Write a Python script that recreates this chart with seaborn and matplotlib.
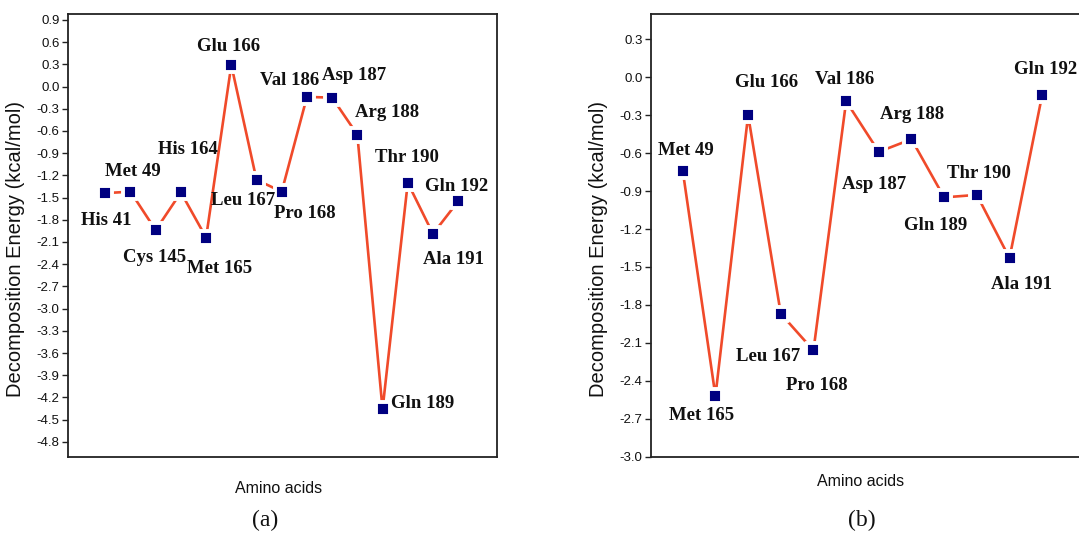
import numpy as np
import pandas as pd
import matplotlib
matplotlib.use("Agg")
import matplotlib.pyplot as plt
import seaborn as sns

####################################################################
# Per-residue decomposition energies (kcal/mol)
####################################################################
residues_a = ["His 41", "Met 49", "Cys 145", "His 164", "Met 165", "Glu 166",
              "Leu 167", "Pro 168", "Val 186", "Asp 187", "Arg 188", "Gln 189",
              "Thr 190", "Ala 191", "Gln 192"]
energy_a = [-1.44, -1.42, -1.94, -1.43, -2.04, 0.29, -1.26, -1.42, -0.14,
            -0.15, -0.65, -4.36, -1.30, -1.99, -1.55]

residues_b = ["Met 49", "Met 165", "Glu 166", "Leu 167", "Pro 168", "Val 186",
              "Asp 187", "Arg 188", "Gln 189", "Thr 190", "Ala 191", "Gln 192"]
energy_b = [-0.74, -2.52, -0.30, -1.87, -2.16, -0.19, -0.59, -0.49, -0.95,
            -0.93, -1.43, -0.14]

# where each residue name sits relative to its point (pixels, up is +)
offsets_a = [(1, -27), (2, 20), (-1, -27), (7, 43), (13, -31), (-3, 19),
             (-13, -21), (23, -22), (-17, 16), (22, 22), (30, 22), (40, 6),
             (-1, 25), (21, -26), (-2, 15)]
offsets_b = [(3, 20), (-14, -20), (18, 33), (-13, -43), (3, -35), (-2, 22),
             (-5, -33), (1, 25), (-9, -28), (2, 21), (12, -26), (3, 25)]

LINE_COLOR = "#f04a2a"
MARK_COLOR = "#000080"
TEXT_COLOR = "#111111"


def draw_panel(ax, residues, energy, offsets, ylim, yticks, xlim, xlab_y):
    df = pd.DataFrame({"pos": np.arange(1, len(residues) + 1),
                       "energy": energy, "residue": residues})
    sns.lineplot(data=df, x="pos", y="energy", color=LINE_COLOR,
                 linewidth=1.9, ax=ax, zorder=2)
    # white edge leaves the small gap between line and symbol
    sns.scatterplot(data=df, x="pos", y="energy", marker="s", s=110,
                    color=MARK_COLOR, edgecolor="white", linewidth=2.8,
                    ax=ax, zorder=3)
    for (_, row), (dx, dy) in zip(df.iterrows(), offsets):
        ax.annotate(row["residue"], (row["pos"], row["energy"]),
                    xytext=(dx, dy), textcoords="offset pixels",
                    ha="center", va="center", fontsize=13.5, color=TEXT_COLOR,
                    fontweight="bold", family=["Liberation Serif", "DejaVu Serif"])
    ax.set_xlim(*xlim)
    ax.set_ylim(*ylim)
    ax.set_xticks([])
    ax.set_yticks(yticks)
    ax.set_yticklabels([f"{v:.1f}".replace("-0.0", "0.0") for v in yticks])
    ax.tick_params(axis="y", direction="out", length=4, width=1,
                   labelsize=9.5, pad=2, color="#222222", labelcolor=TEXT_COLOR)
    for sp in ax.spines.values():
        sp.set_visible(True)
        sp.set_linewidth(1.3)
        sp.set_color("#222222")
    ax.set_ylabel("Decomposition Energy (kcal/mol)", fontsize=14.5, color=TEXT_COLOR)
    ax.yaxis.set_label_coords(-0.1, 0.47)
    ax.set_xlabel("Amino acids", fontsize=11.5, color=TEXT_COLOR)
    ax.xaxis.set_label_coords(0.49, xlab_y)


def main():
    sns.set_theme(style="ticks")
    plt.rcParams["font.family"] = ["Liberation Sans", "DejaVu Sans"]

    fig = plt.figure(figsize=(10.79, 5.34), dpi=100)
    ax_a = fig.add_axes([0.0630, 0.1448, 0.3976, 0.829])
    ax_b = fig.add_axes([0.6031, 0.1448, 0.3976, 0.829])

    ticks_a = np.round(np.arange(-4.8, 0.91, 0.3), 1)
    ticks_b = np.round(np.arange(-3.0, 0.31, 0.3), 1)

    draw_panel(ax_a, residues_a, energy_a, offsets_a, (-5.0, 0.98), ticks_a,
               (-0.48, 16.54), -0.055)
    draw_panel(ax_b, residues_b, energy_b, offsets_b, (-3.0, 0.5), ticks_b,
               (0.02, 13.15), -0.039)

    fig.text(0.2456, 0.026, "(a)", ha="center", va="center", fontsize=17,
             color=TEXT_COLOR, family=["Liberation Serif", "DejaVu Serif"])
    fig.text(0.7986, 0.026, "(b)", ha="center", va="center", fontsize=17,
             color=TEXT_COLOR, family=["Liberation Serif", "DejaVu Serif"])

    fig.savefig("out.png", dpi=100)


if __name__ == "__main__":
    main()
